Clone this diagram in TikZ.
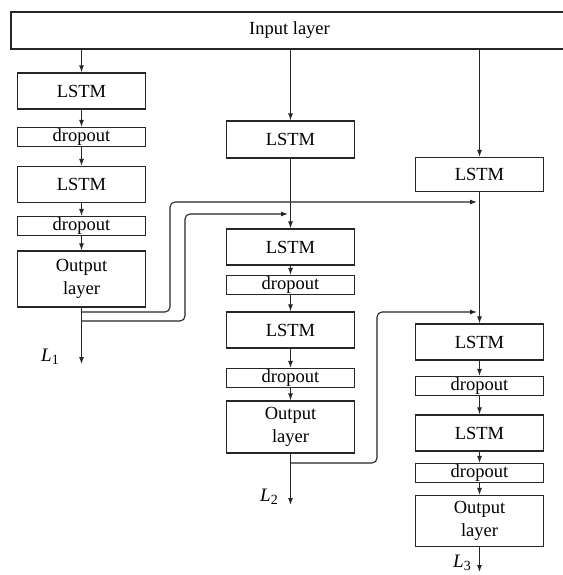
\documentclass[tikz,border=0pt]{standalone}
\usepackage{fontspec}
\setmainfont{Liberation Serif}
\usetikzlibrary{arrows.meta}
\tikzset{
  box/.style={draw=black!85, line width=1.2pt, minimum width=128pt, inner sep=0pt,
    font=\fontsize{18.5}{23}\selectfont, align=center},
  arr/.style={draw=black!85, line width=1.1pt, -{Latex[length=7pt,width=5pt]}},
  wire/.style={arr, rounded corners=5pt},
  lbl/.style={inner sep=0pt, font=\fontsize{19}{19}\selectfont}
}
\newcommand{\lsub}[1]{{\itshape L}\raisebox{-0.35ex}{\fontsize{14}{14}\selectfont #1}}
\begin{document}
\begin{tikzpicture}[x=1pt, y=-1pt]
\useasboundingbox (0,0) rectangle (562,575);
\fill[white] (0,0) rectangle (562,575);

% input layer spanning all three branches
\node[box, minimum width=557pt, minimum height=37pt] (input) at (289.5,30.5) {Input layer};

% branch 1
\node[box, minimum height=36pt] (l11) at (81.5,91) {LSTM};
\node[box, minimum height=19pt] (d11) at (81.5,137) {dropout};
\node[box, minimum height=36pt] (l12) at (81.5,184.5) {LSTM};
\node[box, minimum height=19pt] (d12) at (81.5,226) {dropout};
\node[box, minimum height=56pt] (o1) at (81.5,279) {Output\\layer};

% branch 2
\node[box, minimum height=37pt] (l21) at (290.5,139.5) {LSTM};
\node[box, minimum height=36pt] (l22) at (290.5,247) {LSTM};
\node[box, minimum height=19pt] (d21) at (290.5,285) {dropout};
\node[box, minimum height=36pt] (l23) at (290.5,330) {LSTM};
\node[box, minimum height=19pt] (d22) at (290.5,378) {dropout};
\node[box, minimum height=52pt] (o2) at (290.5,427) {Output\\layer};

% branch 3
\node[box, minimum height=34pt] (l31) at (479.5,174.5) {LSTM};
\node[box, minimum height=36pt] (l32) at (479.5,342) {LSTM};
\node[box, minimum height=19pt] (d31) at (479.5,386) {dropout};
\node[box, minimum height=36pt] (l33) at (479.5,433) {LSTM};
\node[box, minimum height=19pt] (d32) at (479.5,473) {dropout};
\node[box, minimum height=51pt] (o3) at (479.5,521) {Output\\layer};

% feeds from the input layer
\draw[arr] (input.south -| l11.north) -- (l11.north);
\draw[arr] (input.south -| l21.north) -- (l21.north);
\draw[arr] (input.south -| l31.north) -- (l31.north);

% vertical chains
\draw[arr] (l11) -- (d11);
\draw[arr] (d11) -- (l12);
\draw[arr] (l12) -- (d12);
\draw[arr] (d12) -- (o1);

\draw[arr] (l21) -- (l22);
\draw[arr] (l22) -- (d21);
\draw[arr] (d21) -- (l23);
\draw[arr] (l23) -- (d22);
\draw[arr] (d22) -- (o2);

\draw[arr] (l31) -- (l32);
\draw[arr] (l32) -- (d31);
\draw[arr] (d31) -- (l33);
\draw[arr] (l33) -- (d32);
\draw[arr] (d32) -- (o3);

% outputs
\coordinate (e1) at (81.5,364);
\coordinate (e2) at (290.5,505);
\coordinate (e3) at (479.5,572);
\draw[arr] (o1) -- (e1);
\draw[arr] (o2) -- (e2);
\draw[arr] (o3) -- (e3);
\node[lbl] (L1) at (50,357) {\lsub{1}};
\node[lbl] (L2) at (269,497) {\lsub{2}};
\node[lbl] (L3) at (462,563) {\lsub{3}};

% skip connections from the output layers
\coordinate (s1a) at (81.5,312);
\coordinate (s1b) at (81.5,321);
\coordinate (s2a) at (290.5,463);
\coordinate (t13) at (477,202);
\coordinate (t12) at (288,214);
\coordinate (t23) at (477,312);
\draw[wire] (s1a) -- (170,312) -- (170,202) -- (t13);
\draw[wire] (s1b) -- (185,321) -- (185,214) -- (t12);
\draw[wire] (s2a) -- (377,463) -- (377,312) -- (t23);
\end{tikzpicture}
\end{document}
